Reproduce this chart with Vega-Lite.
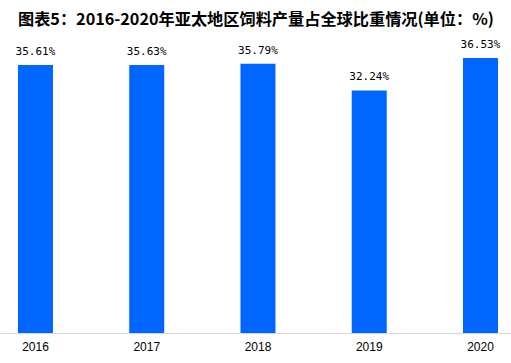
{
  "$schema": "https://vega.github.io/schema/vega-lite/v6.json",
  "width": 511,
  "height": 301,
  "autosize": {"type": "none"},
  "padding": {"left": 0, "right": 0, "top": 32, "bottom": 30},
  "background": "#ffffff",
  "title": {
    "text": "图表5：2016-2020年亚太地区饲料产量占全球比重情况(单位：%)",
    "anchor": "start",
    "frame": "group",
    "font": "Noto Sans CJK SC",
    "fontSize": 16.2,
    "fontWeight": "bold",
    "color": "#000000",
    "dx": 18,
    "offset": 4
  },
  "data": {
    "values": [
      {"year": "2016", "share": 35.61, "label": "35.61%"},
      {"year": "2017", "share": 35.63, "label": "35.63%"},
      {"year": "2018", "share": 35.79, "label": "35.79%"},
      {"year": "2019", "share": 32.24, "label": "32.24%"},
      {"year": "2020", "share": 36.53, "label": "36.53%"}
    ]
  },
  "encoding": {
    "x": {
      "field": "year",
      "type": "nominal",
      "sort": null,
      "scale": {"paddingInner": 0.6854, "paddingOuter": 0.1393, "align": 0.58},
      "axis": {
        "title": null,
        "labelAngle": 0,
        "labelFont": "Liberation Sans",
        "labelFontSize": 12,
        "labelColor": "#000000",
        "labelPadding": 8,
        "ticks": false,
        "domainColor": "#d9d9d9",
        "domainWidth": 1,
        "grid": false
      }
    },
    "y": {
      "field": "share",
      "type": "quantitative",
      "scale": {"domain": [0, 40], "nice": false},
      "axis": null
    }
  },
  "layer": [
    {"mark": {"type": "bar", "color": "#0066ff"}},
    {
      "mark": {
        "type": "text",
        "baseline": "alphabetic",
        "dy": -10,
        "font": "DejaVu Sans Mono",
        "fontSize": 11,
        "color": "#000000"
      },
      "encoding": {"text": {"field": "label"}}
    }
  ],
  "config": {"view": {"stroke": null}}
}
